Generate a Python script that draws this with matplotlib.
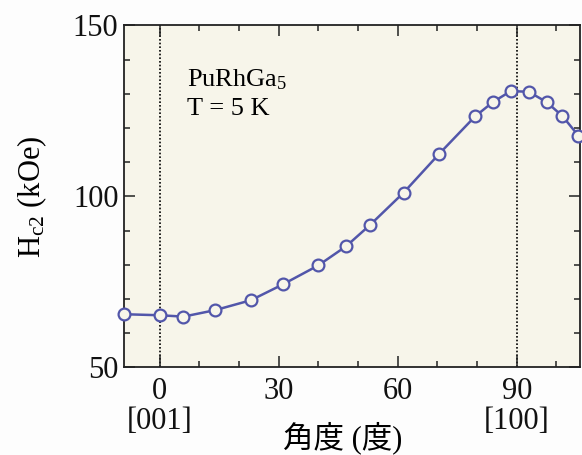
import numpy as np
import matplotlib.pyplot as plt
from matplotlib.ticker import MultipleLocator

# 角度 (度) と Hc2 (kOe) の読み取り値
angle = [-9, 0, 6, 14, 23, 31, 40, 47, 53, 61.5, 70.5, 79.5, 84, 88.5, 93, 97.5, 101.5, 105.5]
hc2 = [65.5, 65.2, 64.8, 66.7, 69.6, 74.2, 79.8, 85.4, 91.6, 101.1, 112.5,
       123.4, 127.6, 130.8, 130.6, 127.6, 123.5, 117.8]

xticks = [0, 30, 60, 90]
xtick_labels = ["0\n[001]", "30", "60", "90\n[100]"]
yticks = [50, 100, 150]
axis_lines = [0, 90]

plt.rcParams['font.family'] = ['Liberation Serif', 'Noto Sans CJK JP', 'DejaVu Sans']
plt.rcParams['mathtext.fontset'] = 'custom'
plt.rcParams['mathtext.rm'] = 'Liberation Serif'
plt.rcParams['mathtext.it'] = 'Liberation Serif:italic'

fig = plt.figure(figsize=(5.82, 4.55), dpi=100, facecolor="#fdfdfd")
ax = fig.add_axes([0.213, 0.193, 0.784, 0.751])
ax.set_facecolor("#f7f5ea")

line_color = "#5256aa"
for xv in axis_lines:
    ax.axvline(xv, color="black", linestyle=(0, (1.0, 1.2)), linewidth=1.2, zorder=1)

ax.plot(angle, hc2, color=line_color, linewidth=1.8, zorder=2, clip_on=True)
ax.plot(angle, hc2, linestyle="none", marker="o", markersize=8.5,
        markerfacecolor="#f7f5ea", markeredgecolor=line_color,
        markeredgewidth=1.6, zorder=3, clip_on=False)

ax.set_xlim(-9, 106)
ax.set_ylim(50, 150)

ax.set_xticks(xticks)
ax.set_xticklabels(xtick_labels, fontsize=22, linespacing=1.03)
ax.xaxis.set_minor_locator(MultipleLocator(10))
ax.set_yticks(yticks)
ax.set_yticklabels([str(v) for v in yticks], fontsize=22)
ax.yaxis.set_minor_locator(MultipleLocator(10))

ax.tick_params(which="both", direction="in", top=True, right=True, width=1.1, colors="#222222",
               labelcolor="#111111")
ax.tick_params(which="major", length=8, pad=4)
ax.tick_params(axis="x", which="major", pad=7)
ax.tick_params(which="minor", length=4.5)
for sp in ax.spines.values():
    sp.set_linewidth(1.3)
    sp.set_color("#222222")

ax.set_ylabel("H$_{\\rm c2}$ (kOe)", fontsize=22, va="center")
ax.yaxis.set_label_coords(-0.202, 0.5)
ax.set_xlabel("角度 (度)", fontsize=22, va="center")
ax.xaxis.set_label_coords(0.48, -0.207)

ax.text(7, 132.2, "PuRhGa$_5$", fontsize=19)
ax.text(7, 123.7, "T = 5 K", fontsize=19)

fig.savefig("out.png", dpi=100, facecolor=fig.get_facecolor())
